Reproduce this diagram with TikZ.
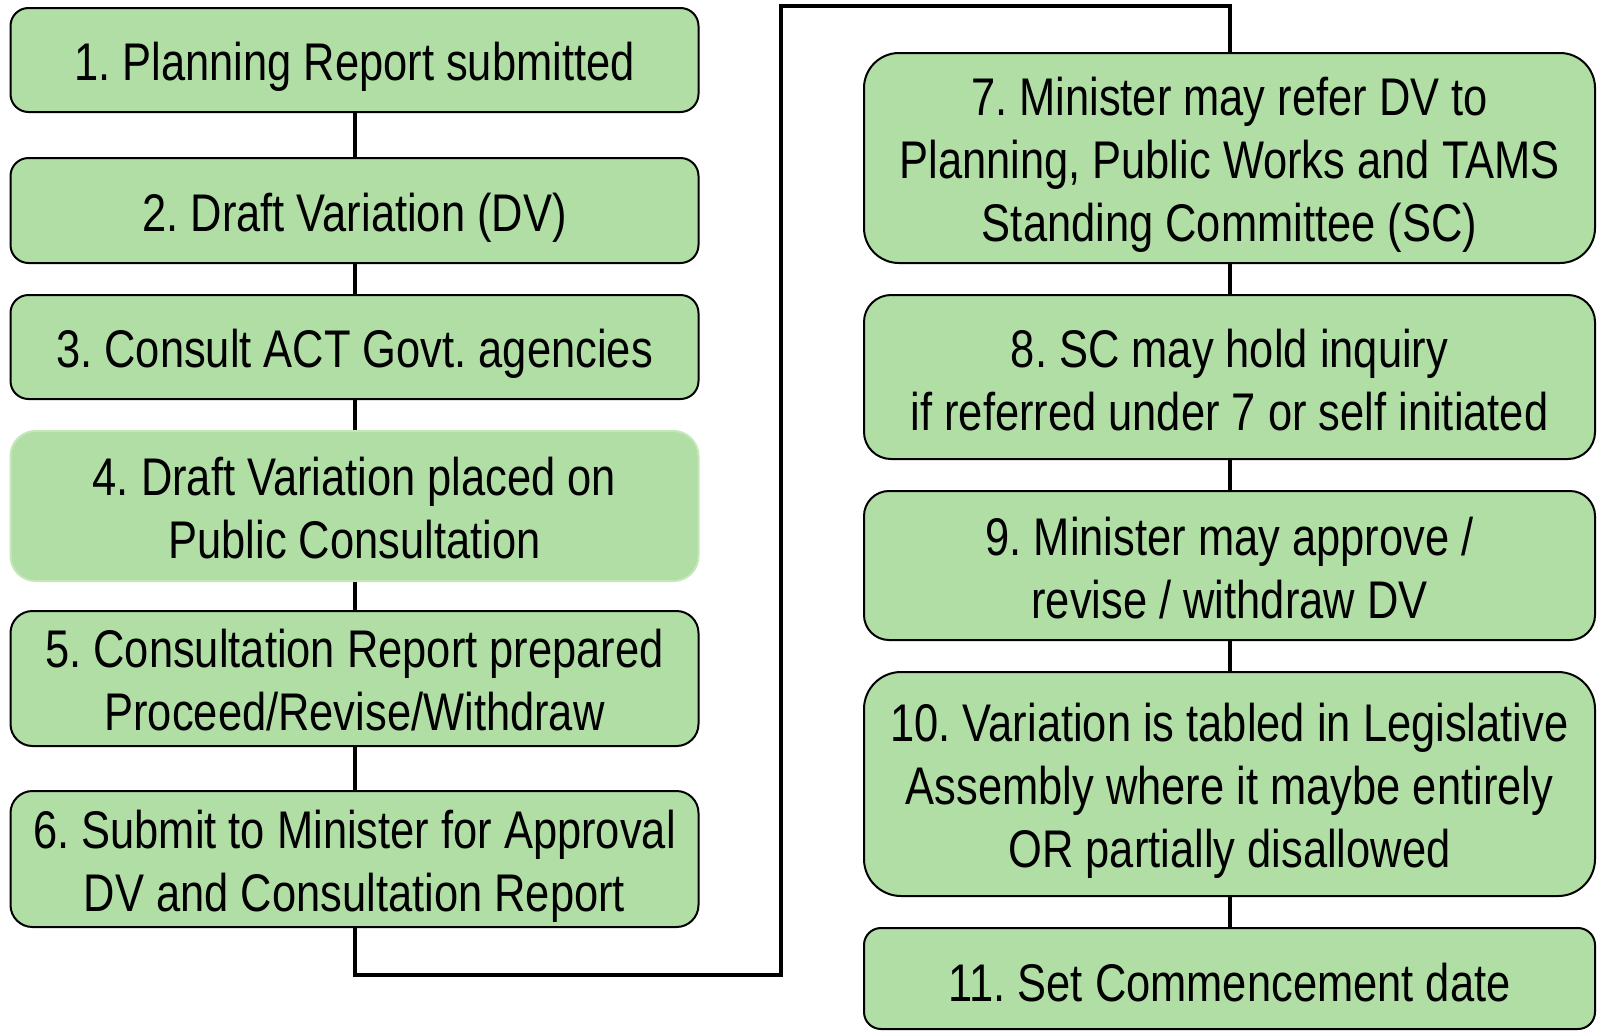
\documentclass[tikz,border=0pt]{standalone}
\usepackage{fontspec}
\setmainfont[FakeStretch=0.82]{Liberation Sans}
\frenchspacing
\definecolor{boxgreen}{RGB}{177,222,165}
\definecolor{boxedge}{RGB}{196,232,186}
\begin{document}
\begin{tikzpicture}[x=1pt,y=-1pt,
  flowbox/.style={draw=black,line width=2pt,fill=boxgreen,inner sep=0pt},
  boxtext/.style={align=center,inner sep=0pt,font=\fontsize{53}{63}\selectfont},
  link/.style={draw=black,line width=4pt}]
\useasboundingbox (0,0) rectangle (1597,1031);
% left column
\node[flowbox,minimum width=688pt,minimum height=104pt,rounded corners=18pt] (b1) at (354.5,60) {};
\node[flowbox,minimum width=688pt,minimum height=105pt,rounded corners=18pt] (b2) at (354.5,210.5) {};
\node[flowbox,minimum width=688pt,minimum height=104pt,rounded corners=18pt] (b3) at (354.5,347) {};
\node[flowbox,draw=boxedge,minimum width=688pt,minimum height=150pt,rounded corners=25pt] (b4) at (354.5,506) {};
\node[flowbox,minimum width=688pt,minimum height=135pt,rounded corners=22pt] (b5) at (354.5,678.5) {};
\node[flowbox,minimum width=688pt,minimum height=136pt,rounded corners=22pt] (b6) at (354.5,859) {};
% right column
\node[flowbox,minimum width=731pt,minimum height=210pt,rounded corners=35pt] (b7) at (1229.5,158) {};
\node[flowbox,minimum width=731pt,minimum height=164pt,rounded corners=27pt] (b8) at (1229.5,377) {};
\node[flowbox,minimum width=731pt,minimum height=149pt,rounded corners=25pt] (b9) at (1229.5,565.5) {};
\node[flowbox,minimum width=731pt,minimum height=224pt,rounded corners=37pt] (b10) at (1229.5,784) {};
\node[flowbox,minimum width=731pt,minimum height=101pt,rounded corners=17pt] (b11) at (1229.5,978.5) {};
% texts
\node[boxtext] (t1) at ([yshift=-7pt]b1.center) {1. Planning Report submitted};
\node[boxtext] (t2) at ([yshift=-7pt]b2.center) {2. Draft Variation (DV)};
\node[boxtext] (t3) at ([yshift=-7pt]b3.center) {3. Consult ACT Govt. agencies};
\node[boxtext] (t4) at ([yshift=-2pt]b4.center) {4. Draft Variation placed on\\Public Consultation};
\node[boxtext] (t5) at ([yshift=-2pt]b5.center) {5. Consultation Report prepared\\Proceed/Revise/Withdraw};
\node[boxtext] (t6) at ([yshift=-7pt]b6.center) {6. Submit to Minister for Approval\\DV and Consultation Report};
\node[boxtext] (t7) at ([yshift=-7pt]b7.center) {7. Minister may refer DV to\\Planning, Public Works and TAMS\\Standing Committee (SC)};
\node[boxtext] (t8) at ([yshift=-3pt]b8.center) {8. SC may hold inquiry\\if referred under 7 or self initiated};
\node[boxtext] (t9) at ([yshift=-3pt]b9.center) {9. Minister may approve /\\revise / withdraw DV};
\node[boxtext] (t10) at ([yshift=-7pt]b10.center) {10. Variation is tabled in Legislative\\Assembly where it maybe entirely\\OR partially disallowed};
\node[boxtext] (t11) at ([yshift=-4pt]b11.center) {11. Set Commencement date};
% connectors
\draw[link] (b1.south) -- (b2.north);
\draw[link] (b2.south) -- (b3.north);
\draw[link] (b3.south) -- (b4.north);
\draw[link] (b4.south) -- (b5.north);
\draw[link] (b5.south) -- (b6.north);
\coordinate (c1) at (354.5,975);
\coordinate (c2) at (781,975);
\coordinate (c3) at (781,6);
\coordinate (c4) at (1229.5,6);
\draw[link,line join=miter] (b6.south) -- (c1) -- (c2) -- (c3) -- (c4) -- (b7.north);
\draw[link] (b7.south) -- (b8.north);
\draw[link] (b8.south) -- (b9.north);
\draw[link] (b9.south) -- (b10.north);
\draw[link] (b10.south) -- (b11.north);
\end{tikzpicture}
\end{document}
